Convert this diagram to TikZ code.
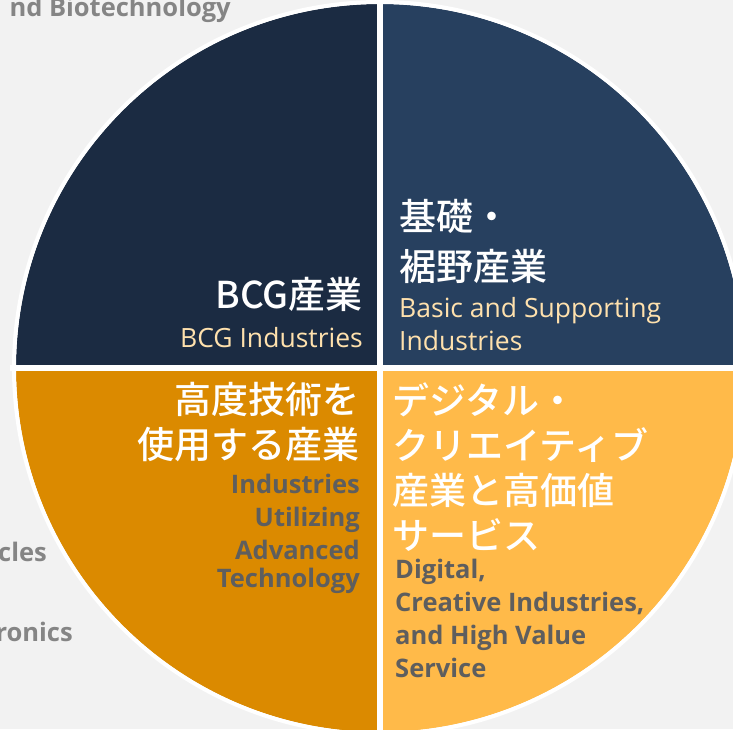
\documentclass[tikz,border=0pt]{standalone}
\usepackage{fontspec}
\setmainfont{Open Sans}
\newfontfamily\jpfont{Noto Sans CJK JP}[UprightFont={* Medium}]
\usetikzlibrary{calc}

\definecolor{paper}{HTML}{F2F2F2}
\definecolor{navyA}{HTML}{1B2B42}
\definecolor{navyB}{HTML}{27405F}
\definecolor{amberA}{HTML}{DB8A00}
\definecolor{amberB}{HTML}{FFBA49}
\definecolor{wheat}{HTML}{FFE1AD}
\definecolor{slate}{HTML}{5E5E5E}
\definecolor{ghost}{HTML}{858585}

\begin{document}
\begin{tikzpicture}[x=1pt,y=1pt,
	jp/.style={text=white,inner sep=0pt,font=\jpfont\fontsize{37}{45}\selectfont},
	en/.style={inner sep=0pt,font=\fontsize{26.5}{33}\selectfont},
	enb/.style={inner sep=0pt,font=\bfseries\fontsize{25.5}{33}\selectfont}]
	\useasboundingbox (0,0) rectangle (733,729);
	\fill[paper] (0,0) rectangle (733,729);
	
	% text behind the pie
	\node[enb,text=ghost,anchor=base east] (bio) at (231,712) {nd Biotechnology};
	\node[enb,text=ghost,anchor=base east] (veh) at (47,168) {cles};
	\node[enb,text=ghost,anchor=base east] (ele) at (73,88) {ronics};
	
	\begin{scope}
		\clip (0,0) rectangle (733,729);
		\coordinate (c) at (380,361);
		% quarters
		\fill[navyA] (c) -- ++(180:364) arc (180:90:364) -- cycle;
		\fill[navyB] (c) -- ++(90:364) arc (90:0:364) -- cycle;
		\fill[amberA] (c) -- ++(180:364) arc (180:270:364) -- cycle;
		\fill[amberB] (c) -- ++(270:364) arc (270:360:364) -- cycle;
		% white rim and cuts
		\draw[white,line width=4pt] (c) circle (366);
		\draw[white,line width=6pt] ($(c)+(-370,0)$) -- ($(c)+(370,0)$);
		\draw[white,line width=6pt] ($(c)+(0,-370)$) -- ($(c)+(0,370)$);
	\end{scope}
	
	% BCG
	\node[jp,anchor=north east] (bcgJ) at (363,452) {BCG産業};
	\node[en,text=wheat,anchor=north east] (bcgE) at (363,402) {BCG Industries};
	
	% basic and supporting
	\node[jp,anchor=north west,align=left] (basJ) at (399,530) {基礎・\\[5pt]裾野産業};
	\node[en,text=wheat,anchor=north west,align=left] (basE) at (399,432) {Basic and Supporting\\Industries};
	
	% advanced technology
	\node[jp,anchor=north east,align=right] (advJ) at (360,347) {高度技術を\\使用する産業};
	\node[enb,text=slate,anchor=north east,align=right] (advE) at (360,255) {Industries\\Utilizing\\Advanced\\[-5pt]Technology};
	
	% digital and creative
	\node[jp,anchor=north west,align=left] (digJ) at (392,347) {デジタル・\\クリエイティブ\\産業と高価値\\サービス};
	\node[enb,text=slate,anchor=north west,align=left] (digE) at (395,170) {Digital,\\Creative Industries,\\and High Value\\Service};
\end{tikzpicture}
\end{document}
